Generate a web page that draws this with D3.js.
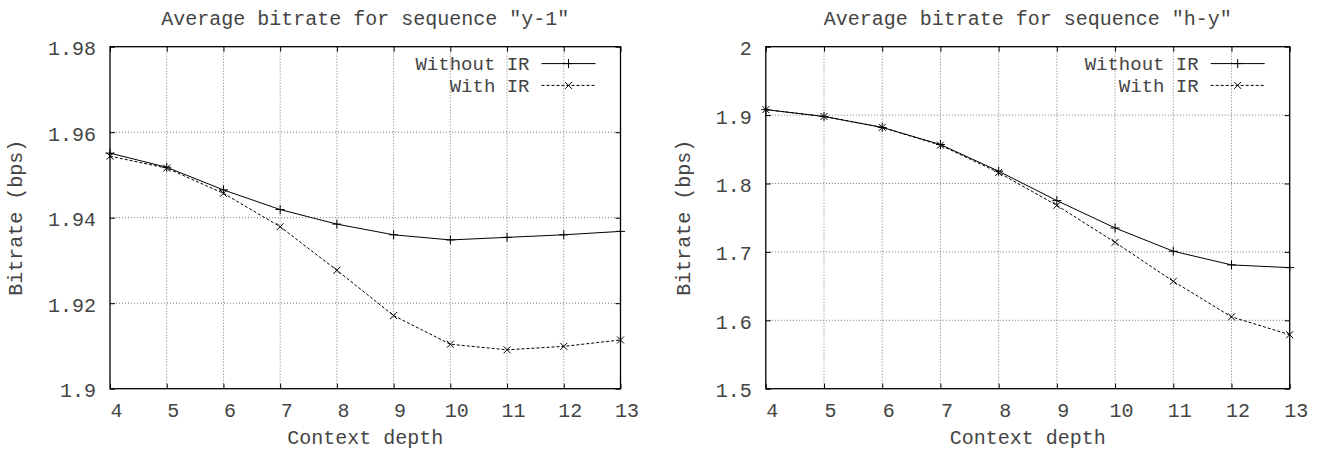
<!DOCTYPE html>
<html>
<head>
<meta charset="utf-8">
<script src="https://cdn.jsdelivr.net/npm/d3@7"></script>
<style>
  html, body { margin: 0; padding: 0; background: #fff; }
  svg { display: block; }
  text { font-family: "Liberation Mono", "DejaVu Sans Mono", monospace; fill: #444; }
</style>
</head>
<body>
<svg id="chart" width="1319" height="450"></svg>
<script>
// ---- data ----
const depth = [4, 5, 6, 7, 8, 9, 10, 11, 12, 13];
const seriesNames = ["Without IR", "With IR"];

const y1Without = [1.9551, 1.9518, 1.9465, 1.9419, 1.9385, 1.9360, 1.9348, 1.9354, 1.9360, 1.9368];
const y1With    = [1.9544, 1.9516, 1.9457, 1.9379, 1.9277, 1.9171, 1.9104, 1.9091, 1.9099, 1.9114];
const hyWithout = [1.908, 1.898, 1.882, 1.857, 1.818, 1.775, 1.735, 1.701, 1.681, 1.677];
const hyWith    = [1.908, 1.898, 1.882, 1.856, 1.816, 1.768, 1.714, 1.657, 1.605, 1.579];

const y1Ticks = [1.9, 1.92, 1.94, 1.96, 1.98];
const y1TickLabels = ["1.9", "1.92", "1.94", "1.96", "1.98"];
const hyTicks = [1.5, 1.6, 1.7, 1.8, 1.9, 2.0];
const hyTickLabels = ["1.5", "1.6", "1.7", "1.8", "1.9", "2"];

const titles = ['Average bitrate for sequence "y-1"', 'Average bitrate for sequence "h-y"'];
const xLabel = "Context depth";
const yLabel = "Bitrate (bps)";

// ---- drawing ----
const svg = d3.select("#chart");
const FONT = 20;
const LEGEND_FONT = 19;
const TOP = 46.7, BOTTOM = 388.7;

const plusPath = "M-4.5,0H4.5M0,-4.5V4.5";
const crossPath = "M-3.5,-3.5L3.5,3.5M-3.5,3.5L3.5,-3.5";

function panel(cfg) {
  const g = svg.append("g");
  const x = d3.scaleLinear().domain([4, 13]).range([cfg.left, cfg.right]);
  const y = d3.scaleLinear().domain([cfg.ticks[0], cfg.ticks[cfg.ticks.length - 1]]).range([BOTTOM, TOP]);

  // grid
  const grid = g.append("g").attr("stroke", "#777").attr("stroke-width", 1).attr("stroke-dasharray", "1,2");
  grid.selectAll("line.gx").data(depth.slice(1, -1)).join("line")
    .attr("x1", d => x(d)).attr("x2", d => x(d)).attr("y1", TOP).attr("y2", BOTTOM);
  grid.selectAll("line.gy").data(cfg.ticks.slice(1, -1)).join("line")
    .attr("x1", cfg.left).attr("x2", cfg.right).attr("y1", d => y(d)).attr("y2", d => y(d));

  const fmtIdx = (arr, labels) => d => labels[arr.indexOf(d)];

  const bAx = g.append("g").attr("transform", `translate(0,${BOTTOM})`)
    .call(d3.axisBottom(x).tickValues(depth).tickSize(-5).tickPadding(14).tickFormat(d3.format("d")));
  const lAx = g.append("g").attr("transform", `translate(${cfg.left},0)`)
    .call(d3.axisLeft(y).tickValues(cfg.ticks).tickSize(-5).tickPadding(14).tickFormat(fmtIdx(cfg.ticks, cfg.tickLabels)));
  const tAx = g.append("g").attr("transform", `translate(0,${TOP})`)
    .call(d3.axisTop(x).tickValues(depth).tickSize(-5).tickFormat(""));
  const rAx = g.append("g").attr("transform", `translate(${cfg.right},0)`)
    .call(d3.axisRight(y).tickValues(cfg.ticks).tickSize(-5).tickFormat(""));

  [bAx, lAx, tAx, rAx].forEach(a => {
    a.select(".domain").remove();
    a.attr("font-family", null).attr("font-size", null);
    a.selectAll("line").attr("stroke", "#000").attr("stroke-width", 1);
    a.selectAll("text").attr("font-size", FONT).attr("fill", "#444");
  });
  bAx.selectAll("text").attr("dx", 6);
  lAx.selectAll("text").attr("dy", "0.4em");

  // frame
  g.append("rect").attr("x", cfg.left).attr("y", TOP)
    .attr("width", cfg.right - cfg.left).attr("height", BOTTOM - TOP)
    .attr("fill", "none").attr("stroke", "#000").attr("stroke-width", 1.3);

  const series = [
    { name: seriesNames[0], vals: cfg.without, dash: null, marker: plusPath },
    { name: seriesNames[1], vals: cfg.with, dash: "3,2", marker: crossPath }
  ];
  const line = d3.line().x(d => x(d[0])).y(d => y(d[1]));
  series.forEach((s, i) => {
    const pts = depth.map((d, k) => [d, s.vals[k]]);
    g.append("path").datum(pts).attr("d", line)
      .attr("fill", "none").attr("stroke", "#000").attr("stroke-width", 1)
      .attr("stroke-dasharray", s.dash);
    g.append("g").selectAll("path").data(pts).join("path")
      .attr("transform", d => `translate(${x(d[0])},${y(d[1])})`)
      .attr("d", s.marker).attr("stroke", "#000").attr("stroke-width", 1).attr("fill", "none");

    // legend
    const ly = 63.6 + i * 21.8;
    g.append("text").attr("x", cfg.right - 91).attr("y", ly + 6.3)
      .attr("text-anchor", "end").attr("font-size", LEGEND_FONT).text(s.name);
    g.append("line").attr("x1", cfg.right - 79).attr("x2", cfg.right - 25)
      .attr("y1", ly).attr("y2", ly).attr("stroke", "#000").attr("stroke-width", 1)
      .attr("stroke-dasharray", s.dash);
    g.append("path").attr("transform", `translate(${cfg.right - 52},${ly})`)
      .attr("d", s.marker).attr("stroke", "#000").attr("stroke-width", 1).attr("fill", "none");
  });

  g.append("text").attr("x", (cfg.left + cfg.right) / 2).attr("y", 25)
    .attr("text-anchor", "middle").attr("font-size", FONT).text(cfg.title);
  g.append("text").attr("x", (cfg.left + cfg.right) / 2).attr("y", 444)
    .attr("text-anchor", "middle").attr("font-size", FONT).text(xLabel);
  g.append("text").attr("transform", `translate(${cfg.yLabelX},${(TOP + BOTTOM) / 2}) rotate(-90)`)
    .attr("text-anchor", "middle").attr("font-size", FONT).text(yLabel);
}

panel({ left: 110, right: 620.5, ticks: y1Ticks, tickLabels: y1TickLabels,
        without: y1Without, with: y1With, title: titles[0], yLabelX: 22 });
panel({ left: 765.8, right: 1289.7, ticks: hyTicks, tickLabels: hyTickLabels,
        without: hyWithout, with: hyWith, title: titles[1], yLabelX: 690 });
</script>
</body>
</html>
